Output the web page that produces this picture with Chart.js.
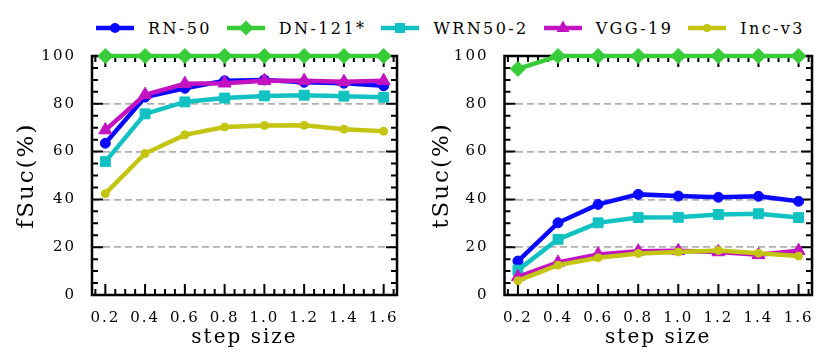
<!DOCTYPE html>
<html>
<head>
<meta charset="utf-8">
<script src="https://cdn.jsdelivr.net/npm/chart.js"></script>
<style>
  body { margin: 0; background: #fff; width: 830px; height: 364px; position: relative; overflow: hidden; font-family: "DejaVu Serif", serif; }
  .panel { position: absolute; top: 0; width: 415px; height: 364px; }
  #legend { position: absolute; top: 18px; left: 96px; height: 20px; display: flex; align-items: center; font-size: 16px; letter-spacing: 2.4px; white-space: nowrap; color: #000; }
  .item { display: flex; align-items: center; margin-right: 15px; }
  .item svg { margin-right: 14px; }
</style>
</head>
<body>
<div id="legend"></div>
<div class="panel" style="left:0"><canvas id="fChart" width="415" height="364"></canvas></div>
<div class="panel" style="left:415px"><canvas id="tChart" width="415" height="364"></canvas></div>
<script>
// x values (step size) and tick labels
const stepSizes = [0.2, 0.4, 0.6, 0.8, 1.0, 1.2, 1.4, 1.6];
const seriesNames = ['RN-50', 'DN-121*', 'WRN50-2', 'VGG-19', 'Inc-v3'];

// fSuc(%) - left panel
const fSucRN50  = [63.5, 82.8, 86.5, 89.6, 90.0, 89.0, 88.6, 87.5];
const fSucDN121 = [100, 100, 100, 100, 100, 100, 100, 100];
const fSucWRN   = [55.8, 75.8, 80.8, 82.4, 83.3, 83.6, 83.2, 82.7];
const fSucVGG   = [69.0, 83.8, 88.4, 88.6, 89.6, 89.6, 89.2, 89.6];
const fSucInc   = [42.4, 59.2, 67.0, 70.3, 70.9, 71.0, 69.4, 68.5];

// tSuc(%) - right panel
const tSucRN50  = [14.2, 30.2, 37.9, 42.1, 41.4, 40.9, 41.3, 39.2];
const tSucDN121 = [94.6, 100, 100, 100, 100, 100, 100, 100];
const tSucWRN   = [10.4, 23.3, 30.2, 32.4, 32.5, 33.7, 34.0, 32.4];
const tSucVGG   = [7.6, 13.6, 17.0, 18.3, 18.5, 18.0, 16.8, 18.5];
const tSucInc   = [6.0, 12.5, 15.6, 17.4, 18.0, 18.6, 17.5, 16.3];

// styles
const seriesColors = ['#0a0aff', '#38cc38', '#12c2c2', '#c212c2', '#c4c412'];
const markerStyles = ['circle', 'rectRot', 'rect', 'triangle', 'circle'];
const markerSizes  = [5, 7.5, 7, 7.5, 4];

Chart.defaults.color = '#000';
Chart.defaults.font.family = '"DejaVu Serif", serif';

// matplotlib-like box with inward major/minor ticks
const frame = {
  id: 'frame',
  beforeLayout(chart) { chart.ctx.letterSpacing = '2px'; },
  beforeDraw(chart) { chart.ctx.letterSpacing = '2px'; },
  beforeDatasetsDraw(chart) {
    const { ctx, chartArea: a, scales: { x, y } } = chart;
    ctx.save();
    ctx.strokeStyle = '#000';
    ctx.lineWidth = 2;
    ctx.beginPath();
    for (let v = 0; v <= 100; v += 5) {
      const py = y.getPixelForValue(v);
      const len = v % 20 === 0 ? 11 : 6;
      ctx.moveTo(a.left, py); ctx.lineTo(a.left + len, py);
      ctx.moveTo(a.right, py); ctx.lineTo(a.right - len, py);
    }
    for (let i = 1; i <= 34; i++) {
      const v = i * 0.05;
      if (v < x.min || v > x.max) continue;
      const px = x.getPixelForValue(v);
      const len = i % 4 === 0 ? 11 : 6;
      ctx.moveTo(px, a.bottom); ctx.lineTo(px, a.bottom - len);
      ctx.moveTo(px, a.top); ctx.lineTo(px, a.top + len);
    }
    ctx.stroke();
    ctx.lineWidth = 2.5;
    ctx.strokeRect(a.left, a.top, a.right - a.left, a.bottom - a.top);
    ctx.restore();
  }
};

function makeChart(id, values, yTitle, yWidth) {
  return new Chart(document.getElementById(id), {
    type: 'line',
    data: {
      datasets: seriesNames.map((name, i) => ({
        label: name,
        data: stepSizes.map((s, k) => ({ x: s, y: values[i][k] })),
        borderColor: seriesColors[i],
        backgroundColor: seriesColors[i],
        pointBorderColor: seriesColors[i],
        pointBackgroundColor: seriesColors[i],
        borderWidth: 4.5,
        pointStyle: markerStyles[i],
        pointRadius: markerSizes[i],
        pointBorderWidth: 1,
        tension: 0,
        clip: false,
        order: seriesNames.length - i
      }))
    },
    options: {
      responsive: false,
      animation: false,
      events: [],
      layout: { padding: { left: 0, top: 56, right: 18, bottom: 0 } },
      plugins: { legend: { display: false }, tooltip: { enabled: false } },
      scales: {
        x: {
          type: 'linear',
          min: 0.133,
          max: 1.667,
          afterFit: s => { s.height = 69; },
          grid: { display: false, drawTicks: false },
          border: { display: false },
          ticks: {
            stepSize: 0.2,
            includeBounds: false,
            autoSkip: false,
            maxRotation: 0,
            padding: 14,
            font: { size: 15 },
            callback: v => v.toFixed(1)
          },
          title: {
            display: true,
            text: 'step size',
            font: { size: 20, lineHeight: 1 },
            padding: { top: 0, bottom: 16 }
          }
        },
        y: {
          min: 0,
          max: 100,
          afterFit: s => { s.width = yWidth; },
          grid: {
            drawTicks: false,
            lineWidth: 1.8,
            color: c => (c.tick && (c.tick.value === 0 || c.tick.value === 100)) ? 'rgba(0,0,0,0)' : '#b0b0b0'
          },
          border: { display: false, dash: [7, 4] },
          ticks: { stepSize: 20, padding: 16, font: { size: 15 } },
          title: {
            display: true,
            text: yTitle,
            font: { size: 23, lineHeight: 1 },
            padding: { top: 16, bottom: 0 }
          }
        }
      }
    },
    plugins: [frame]
  });
}

makeChart('fChart', [fSucRN50, fSucDN121, fSucWRN, fSucVGG, fSucInc], 'fSuc(%)', 92);
makeChart('tChart', [tSucRN50, tSucDN121, tSucWRN, tSucVGG, tSucInc], 'tSuc(%)', 89.5);

// shared legend
function markerSvg(i) {
  const c = seriesColors[i];
  let m = '';
  if (markerStyles[i] === 'circle') m = `<circle cx="19" cy="9" r="${markerSizes[i]}" fill="${c}"/>`;
  if (markerStyles[i] === 'rectRot') m = `<polygon points="19,1.5 26.5,9 19,16.5 11.5,9" fill="${c}"/>`;
  if (markerStyles[i] === 'rect') m = `<rect x="14" y="4" width="10" height="10" fill="${c}"/>`;
  if (markerStyles[i] === 'triangle') m = `<polygon points="19,1.5 25.5,13 12.5,13" fill="${c}"/>`;
  return `<svg width="38" height="18"><line x1="0" y1="9" x2="38" y2="9" stroke="${c}" stroke-width="4.5"/>${m}</svg>`;
}
document.getElementById('legend').innerHTML = seriesNames
  .map((n, i) => `<div class="item">${markerSvg(i)}<span>${n}</span></div>`).join('');
</script>
</body>
</html>
